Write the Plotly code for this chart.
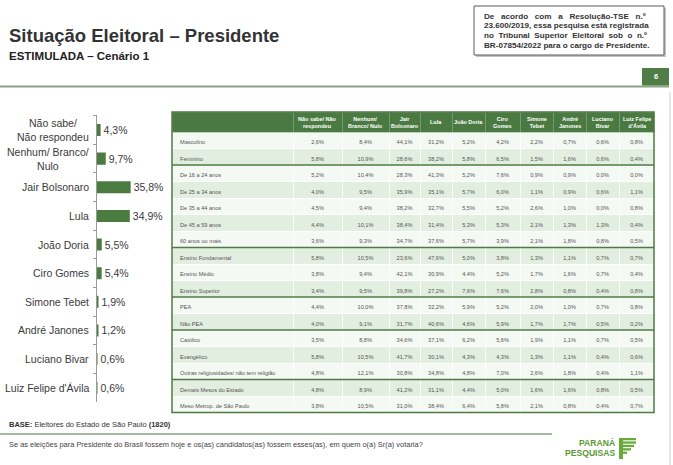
import plotly.graph_objects as go

W, H = 673, 465

# ---------------- data ----------------
bar_labels = ["Não sabe/<br>Não respondeu", "Nenhum/ Branco/<br>Nulo", "Jair Bolsonaro", "Lula",
              "João Doria", "Ciro Gomes", "Simone Tebet", "André Janones", "Luciano Bivar",
              "Luiz Felipe d'Ávila"]
bar_values = [4.3, 9.7, 35.8, 34.9, 5.5, 5.4, 1.9, 1.2, 0.6, 0.6]

table_header = ["", "Não sabe/ Não<br>respondeu", "Nenhum/<br>Branco/ Nulo", "Jair<br>Bolsonaro", "Lula",
                "João Doria", "Ciro<br>Gomes", "Simone<br>Tebet", "André<br>Janones", "Luciano<br>Bivar",
                "Luiz Felipe<br>d'Ávila"]
row_labels = ["Masculino", "Feminino", "De 16 a 24 anos", "De 25 a 34 anos", "De 35 a 44 anos",
              "De 45 a 59 anos", "60 anos ou mais", "Ensino Fundamental", "Ensino Médio",
              "Ensino Superior", "PEA", "Não PEA", "Católico", "Evangélico",
              "Outras religiosidades/ não tem religião", "Demais Mesos do Estado",
              "Meso Metrop. de São Paulo"]
nao_sabe = [2.6, 5.8, 5.2, 4.0, 4.5, 4.4, 3.6, 5.8, 3.8, 3.4, 4.4, 4.0, 3.5, 5.8, 4.8, 4.8, 3.8]
nenhum = [8.4, 10.9, 10.4, 9.5, 9.4, 10.1, 9.3, 10.5, 9.4, 9.5, 10.0, 9.1, 8.8, 10.5, 12.1, 8.9, 10.5]
bolsonaro = [44.1, 28.6, 28.3, 35.9, 38.2, 38.4, 34.7, 23.6, 42.1, 39.8, 37.8, 31.7, 34.6, 41.7, 30.8, 41.2, 31.0]
lula = [31.2, 38.2, 41.3, 35.1, 32.7, 31.4, 37.6, 47.6, 30.9, 27.2, 32.2, 40.6, 37.1, 30.1, 34.8, 31.1, 38.4]
doria = [5.2, 5.8, 5.2, 5.7, 5.5, 5.3, 5.7, 5.0, 4.4, 7.6, 5.9, 4.6, 6.2, 4.3, 4.8, 4.4, 6.4]
ciro = [4.2, 6.5, 7.6, 6.0, 5.2, 5.3, 3.9, 3.8, 5.2, 7.6, 5.2, 5.9, 5.6, 4.3, 7.0, 5.0, 5.8]
tebet = [2.2, 1.5, 0.9, 1.1, 2.6, 2.1, 2.1, 1.3, 1.7, 2.8, 2.0, 1.7, 1.9, 1.3, 2.6, 1.6, 2.1]
janones = [0.7, 1.6, 0.9, 0.9, 1.0, 1.3, 1.8, 1.1, 1.6, 0.8, 1.0, 1.7, 1.1, 1.1, 1.8, 1.6, 0.8]
bivar = [0.6, 0.6, 0.0, 0.6, 0.0, 1.3, 0.8, 0.7, 0.7, 0.4, 0.7, 0.5, 0.7, 0.4, 0.4, 0.8, 0.4]
davila = [0.8, 0.4, 0.0, 1.1, 0.8, 0.4, 0.5, 0.7, 0.4, 0.8, 0.8, 0.2, 0.5, 0.6, 1.1, 0.5, 0.7]
group_ends = [1, 6, 9, 11, 14]  # row index after which a group separator is drawn

# ---------------- helpers ----------------
def px(x):
    return x / W

def py(y):
    return 1 - y / H

def fmt(v):
    return f"{v:.1f}%".replace(".", ",")

FONT = "Liberation Sans, Arial, sans-serif"
DARK = "#4a7a42"
TXT = "#3a3a3a"

fig = go.Figure()

# ---------------- bar chart ----------------
fig.add_trace(go.Bar(
    x=bar_values, y=bar_labels, orientation="h",
    marker=dict(color="#4b7b40", line=dict(width=0)),
    text=[fmt(v) for v in bar_values], textposition="outside",
    textfont=dict(family=FONT, size=10.5, color=TXT), cliponaxis=False,
    hoverinfo="skip",
))
fig.update_layout(
    bargap=0.58,
    xaxis=dict(domain=[px(96.5), px(180)], range=[0, 87.5], visible=False, fixedrange=True),
    yaxis=dict(domain=[py(402), py(115)], autorange="reversed", type="category",
               showline=True, linecolor="#9a9a9a", linewidth=1,
               ticks="outside", ticklen=3, tickcolor="#9a9a9a", tickson="boundaries",
               showticklabels=False, showgrid=False, fixedrange=True),
)

# ---------------- table ----------------
cols = [nao_sabe, nenhum, bolsonaro, lula, doria, ciro, tebet, janones, bivar, davila]
cell_values = [row_labels] + [[fmt(v) for v in c] for c in cols]
n = len(row_labels)
fills = ["#f4f9f3" if i % 2 == 0 else "#e2eee0" for i in range(n)]
colw = [121, 49, 47, 31, 32, 33, 35, 33, 33, 33, 35]
tx0, tx1 = 172, 654
top, hdr, rowh = 112, 20, 16.5
fig.add_trace(go.Table(
    domain=dict(x=[px(tx0), px(tx1)], y=[py(420), py(top)]),
    columnwidth=colw,
    header=dict(values=[""] * len(table_header), fill_color=DARK,
                line=dict(color="#8fb08a", width=0.6), align="center", height=hdr,
                font=dict(family=FONT, size=5.5, color="white")),
    cells=dict(values=cell_values, fill_color=[fills] * 11,
               line=dict(color="#ffffff", width=0.8),
               align=["left"] + ["center"] * 10, height=rowh,
               font=dict(family=FONT, size=5.6, color="#555555")),
))

shapes = []
bottom = top + hdr + n * rowh
shapes.append(dict(type="rect", xref="paper", yref="paper", x0=px(tx0), x1=px(tx1), y0=py(bottom), y1=py(top),
                   line=dict(color="#4d7a45", width=1.5)))
for g in group_ends:
    yy = top + hdr + (g + 1) * rowh
    shapes.append(dict(type="line", xref="paper", yref="paper", x0=px(tx0), x1=px(tx1), y0=py(yy), y1=py(yy),
                       line=dict(color="#4d7a45", width=1.5)))

# rule lines
shapes.append(dict(type="line", xref="paper", yref="paper", x0=0, x1=px(669), y0=py(86.5), y1=py(86.5),
                   line=dict(color="#8aa585", width=2)))
shapes.append(dict(type="line", xref="paper", yref="paper", x0=0, x1=px(552), y0=py(434), y1=py(434),
                   line=dict(color="#8aa585", width=1.5)))
shapes.append(dict(type="line", xref="paper", yref="paper", x0=px(670), x1=px(670), y0=0, y1=py(92),
                   line=dict(color="#cfcfcf", width=1)))
# TSE box
shapes.append(dict(type="rect", xref="paper", yref="paper", x0=px(476), x1=px(666), y0=py(57), y1=py(8),
                   line=dict(width=0), fillcolor="#c4c4c4"))
shapes.append(dict(type="rect", xref="paper", yref="paper", x0=px(474), x1=px(664), y0=py(55), y1=py(6),
                   line=dict(color="#5a5a5a", width=1), fillcolor="white"))
# page number box
shapes.append(dict(type="rect", xref="paper", yref="paper", x0=px(642), x1=px(669), y0=py(85.5), y1=py(68),
                   line=dict(width=0), fillcolor="#4f7d45"))
# logo stripes
for i, (x0, x1) in enumerate([(619, 636), (619, 636), (619, 634), (619, 631), (619, 627)]):
    y0 = 438 + i * 3.4
    shapes.append(dict(type="rect", xref="paper", yref="paper", x0=px(x0), x1=px(x1), y0=py(y0 + 2.3), y1=py(y0),
                       line=dict(width=0), fillcolor="#6aaa3a"))
shapes.append(dict(type="rect", xref="paper", yref="paper", x0=px(619), x1=px(623), y0=py(459), y1=py(438),
                   line=dict(width=0), fillcolor="#6aaa3a"))

ann = []
def text(x, y, s, size, color=TXT, xanchor="left", yanchor="middle", bold=False, align="left"):
    ann.append(dict(x=px(x), y=py(y), xref="paper", yref="paper", text=(f"<b>{s}</b>" if bold else s),
                    showarrow=False, xanchor=xanchor, yanchor=yanchor, align=align,
                    font=dict(family=FONT, size=size, color=color)))

# category labels of the bar chart (centered multi-line like the reference)
for lab in bar_labels:
    ann.append(dict(x=px(91), y=lab, xref="paper", yref="y", text=lab, showarrow=False,
                    xanchor="right", yanchor="middle", align="center",
                    font=dict(family=FONT, size=10.5, color=TXT)))

# table header labels, centred on the table columns
scale = (tx1 - tx0) / sum(colw)
edge = tx0
for w, h in zip(colw, table_header):
    c = edge + w * scale / 2
    edge += w * scale
    if h:
        text(c, top + hdr / 2, h, 5.5, "white", xanchor="center", bold=True, align="center")

text(7, 36, "Situação Eleitoral – Presidente", 18.5, "#333333", bold=True)
text(7, 56, "ESTIMULADA – Cenário 1", 11.5, "#222222", bold=True)
tse = ["De   acordo   com   a   Resolução-TSE   n.º",
       "23.600/2019, essa pesquisa está registrada",
       "no  Tribunal  Superior  Eleitoral  sob  o  n.º",
       "BR-07854/2022 para o cargo de Presidente."]
for i, s in enumerate(tse):
    text(482, 16 + i * 9.7, s, 8.1, "#333333", bold=True)
text(655.5, 77, "6", 7.5, "white", xanchor="center", bold=True)
text(7, 424, "<b>BASE:</b> Eleitores do Estado de São Paulo <b>(1820)</b>", 7.5, "#333333")
text(7, 444, "Se as eleições para Presidente do Brasil fossem hoje e os(as) candidatos(as) fossem esses(as), em quem o(a) Sr(a) votaria?",
     7.45, "#444444")
text(617, 443, "PARANÁ", 8.6, "#5a9a36", xanchor="right", bold=True)
text(617, 453, "PESQUISAS", 8.6, "#5a9a36", xanchor="right", bold=True)

fig.update_layout(
    width=W, height=H, margin=dict(l=0, r=0, t=0, b=0),
    paper_bgcolor="white", plot_bgcolor="white", showlegend=False,
    separators=",.", shapes=shapes, annotations=ann,
)

fig.write_html("out.html", config={"displayModeBar": False},
               post_script="document.body.style.margin='0';document.body.style.overflow='hidden';")
